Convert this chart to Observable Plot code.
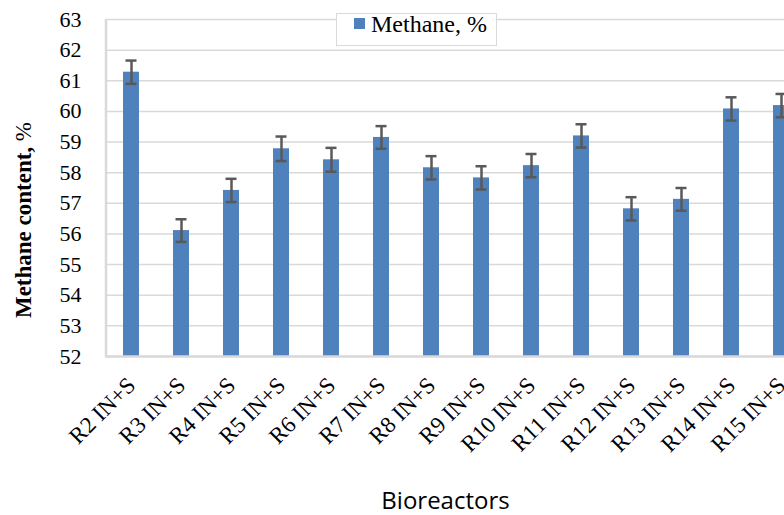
<!DOCTYPE html>
<html>
<head>
<meta charset="utf-8">
<script src="https://cdn.jsdelivr.net/npm/d3@7"></script>
<script src="https://cdn.jsdelivr.net/npm/@observablehq/plot@0.6"></script>
<style>
  body { margin: 0; background: white; }
  #wrap { position: relative; width: 784px; height: 515px; overflow: hidden; }
  #legend { position: absolute; left: 336px; top: 13px; width: 159px; height: 31px; border: 1px solid #d9d9d9; background: white; font-family: "Liberation Serif", serif; font-size: 24px; }
  #legend .sw { position: absolute; left: 17px; top: 4px; width: 11px; height: 11px; background: #4F81BD; }
  #legend .tx { position: absolute; left: 34px; top: -3px; white-space: nowrap; }
</style>
</head>
<body>
<div id="wrap">
  <div id="chart"></div>
  <div id="legend"><div class="sw"></div><div class="tx">Methane, %</div></div>
</div>
<script>
const categories = ["R2 IN+S","R3 IN+S","R4 IN+S","R5 IN+S","R6 IN+S","R7 IN+S","R8 IN+S","R9 IN+S","R10 IN+S","R11 IN+S","R12 IN+S","R13 IN+S","R14 IN+S","R15 IN+S"];
const methane = [61.28,56.11,57.42,58.78,58.42,59.15,58.16,57.83,58.23,59.20,56.82,57.13,60.08,60.19];
const errors = [0.38,0.37,0.38,0.40,0.39,0.37,0.38,0.38,0.38,0.38,0.38,0.37,0.38,0.38];
const yTicks = [52,53,54,55,56,57,58,59,60,61,62,63];
const yTitle = "Methane content,";
const yTitleUnit = " %";
const xTitle = "Bioreactors";

const data = categories.map((c, i) => ({cat: c, v: methane[i], lo: methane[i] - errors[i], hi: methane[i] + errors[i]}));

const blue = "#4F81BD";
const grey = "#d9d9d9";
const errCol = "#595959";
const serif = "'Liberation Serif', 'Times New Roman', serif";
const sans = "'Open Sans', sans-serif";

const plot = Plot.plot({
  width: 784,
  height: 515,
  marginLeft: 106,
  marginRight: 0,
  marginTop: 19,
  marginBottom: 159,
  style: {background: "white", overflow: "hidden"},
  x: {domain: categories, range: [106, 806], paddingInner: 0.68, paddingOuter: 0.34, label: null},
  y: {domain: [yTicks[0], yTicks[yTicks.length - 1]], label: null, axis: null},
  marks: [
    Plot.gridY(yTicks, {stroke: grey, strokeOpacity: 1, strokeWidth: 1.5}),
    Plot.barY(data, {x: "cat", y1: yTicks[0], y2: "v", fill: blue}),
    Plot.ruleX(data, {x: "cat", y1: "lo", y2: "hi", stroke: errCol, strokeWidth: 2.5}),
    Plot.tickY(data, {x: "cat", y: "hi", stroke: errCol, strokeWidth: 2.5, insetLeft: 2.5, insetRight: 2.5}),
    Plot.tickY(data, {x: "cat", y: "lo", stroke: errCol, strokeWidth: 2.5, insetLeft: 2.5, insetRight: 2.5}),
    Plot.ruleY([yTicks[0]], {stroke: grey, strokeWidth: 2.5}),
    Plot.text(yTicks, {y: d => d, text: d => String(d), frameAnchor: "left", dx: -25, textAnchor: "end", fontSize: 22, fontFamily: serif, fill: "#000"}),
    Plot.axisX({tickSize: 0, tickPadding: 25, tickRotate: -45, fontSize: 23, fontFamily: serif, fill: "#000", label: null}),
    Plot.text([xTitle], {frameAnchor: "bottom", dy: 152, fontSize: 24, fontFamily: sans, fill: "#000"})
  ]
});

document.getElementById("chart").appendChild(plot);

const svg = d3.select(plot);
svg.append("line").attr("x1", 106).attr("x2", 106).attr("y1", 19).attr("y2", 357.5)
  .attr("stroke", grey).attr("stroke-width", 2.5);
const t = svg.append("text")
  .attr("transform", "translate(31,220) rotate(-90)")
  .attr("text-anchor", "middle")
  .style("font-family", serif)
  .attr("font-size", 23)
  .attr("fill", "#000");
t.append("tspan").attr("font-weight", "bold").text(yTitle);
t.append("tspan").text(yTitleUnit);
</script>
</body>
</html>
